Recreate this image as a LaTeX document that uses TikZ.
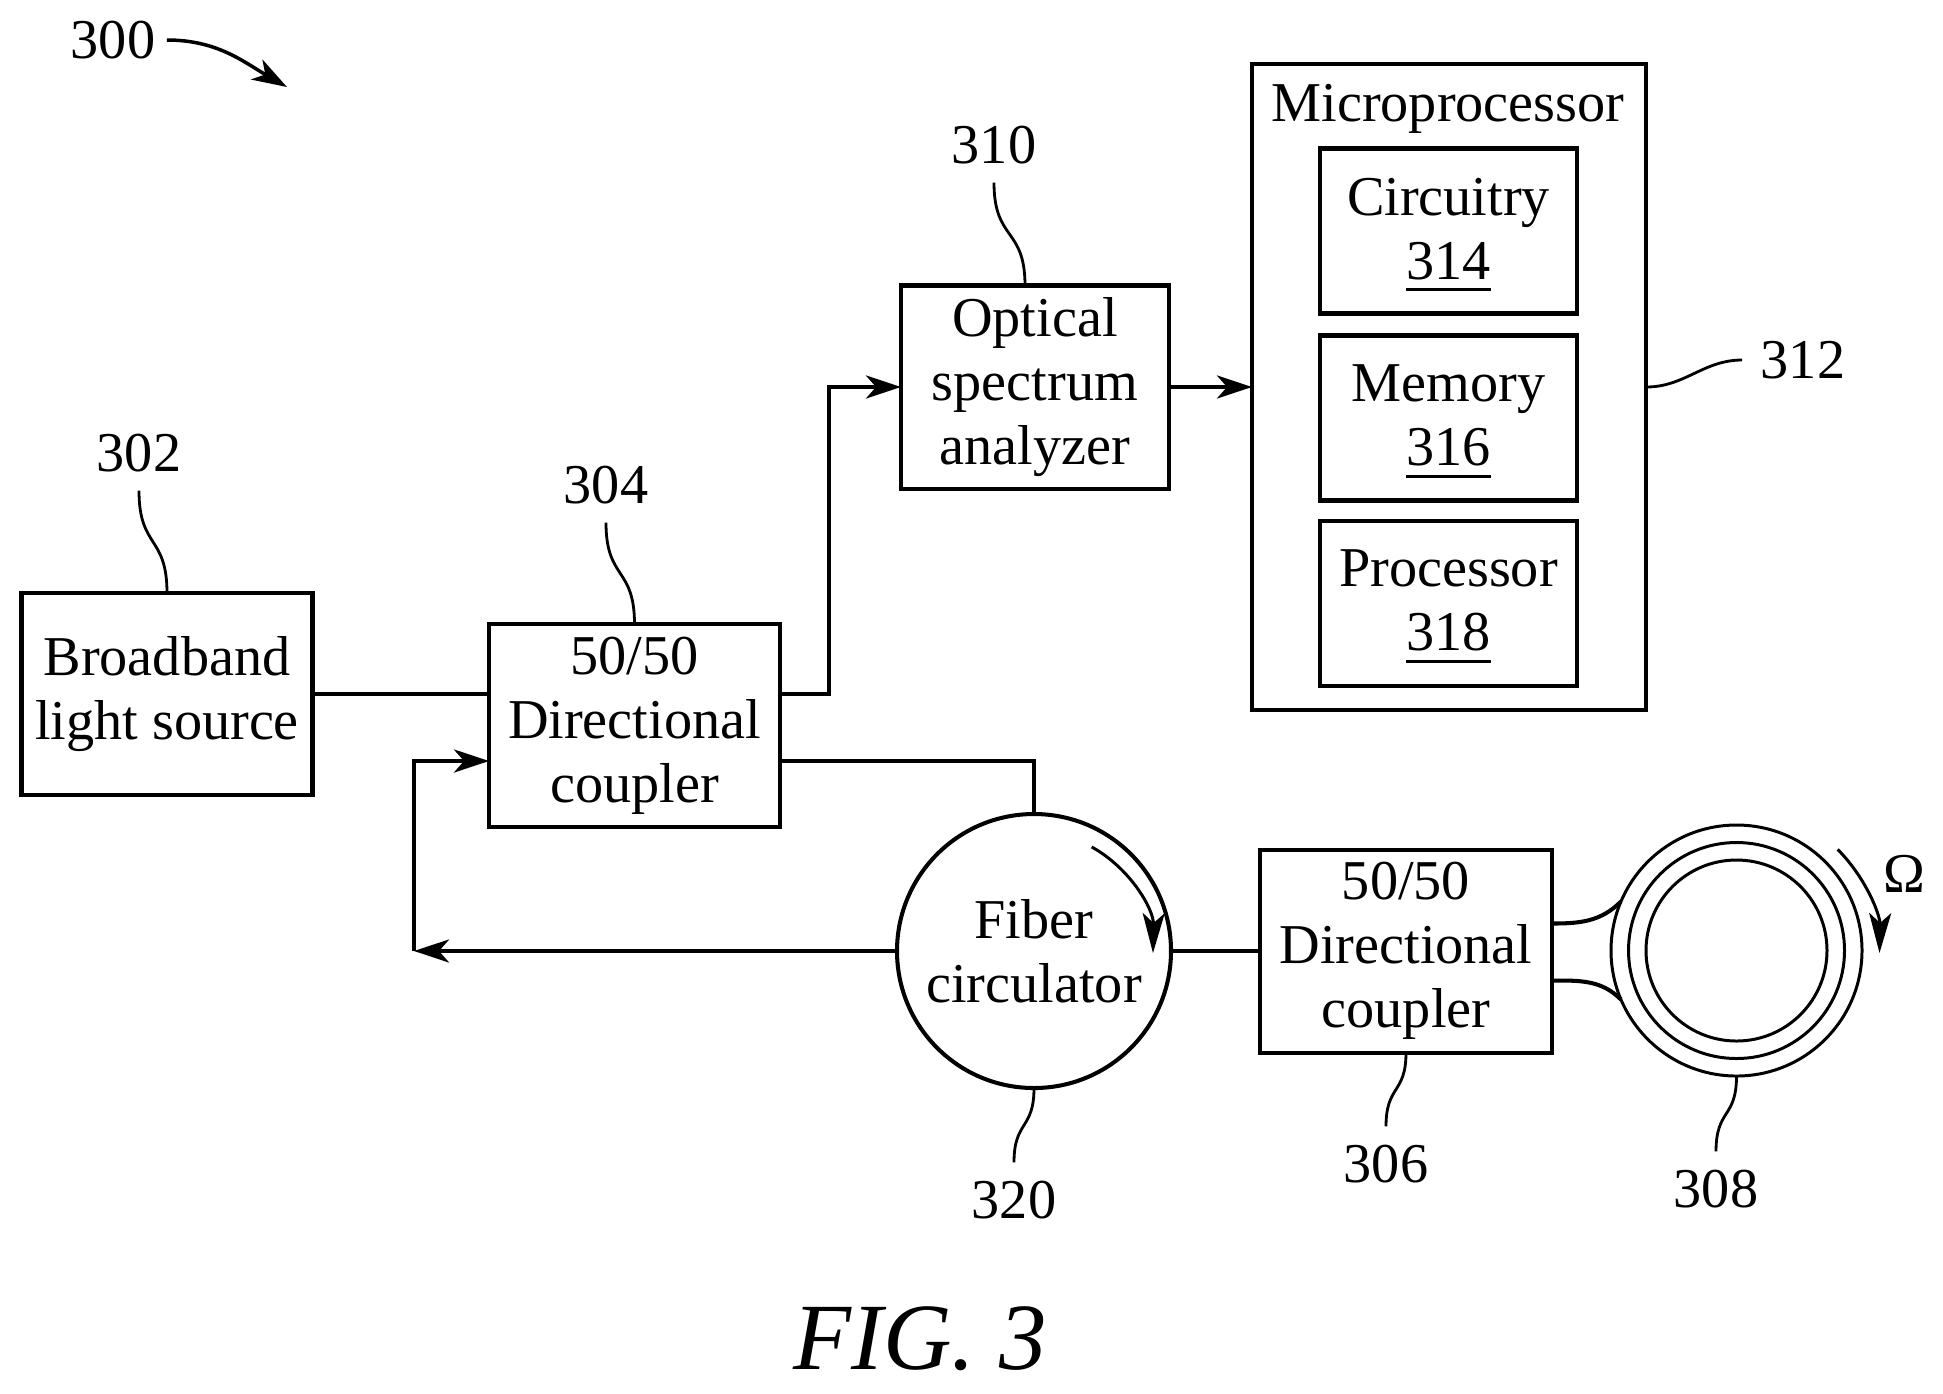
\documentclass[tikz,border=0pt]{standalone}
\usepackage{fontspec}
\setmainfont{Liberation Serif}
\usetikzlibrary{arrows.meta}

\newcommand{\ulnum}[1]{\leavevmode\rlap{\smash{\rule[-.12cm]{.85cm}{.85pt}}}#1\rule[-.05cm]{0pt}{.01cm}}

\tikzset{
  block/.style={draw,line width=1.15pt,inner sep=0pt,outer sep=0pt,align=center,font=\fontsize{16}{18.2}\selectfont},
  refnum/.style={inner sep=.18cm,font=\fontsize{16}{18.2}\selectfont},
  wire/.style={line width=1.15pt},
  leader/.style={line width=.8pt,looseness=1.4},
  spin/.style={line width=.85pt,-{Stealth[length=4mm,width=2.2mm,inset=1mm]}},
  ringline/.style={draw,circle,line width=.85pt,inner sep=0pt,outer sep=0pt},
}

\begin{document}
\begin{tikzpicture}[>={Stealth[length=3.5mm,width=2.3mm,inset=1mm]},node distance=2cm]
  \useasboundingbox (0,0) rectangle (19.43,-13.93);

  \node[block,minimum width=2.91cm,minimum height=2.02cm] (src) at (1.67,-6.94) {Broadband\\light source};
  \node[block,minimum width=2.91cm,minimum height=2.03cm] (dc1) [right of=src,node distance=4.675cm,yshift=-.315cm] {50/50\\Directional\\coupler};
  \node[block,minimum width=2.68cm,minimum height=2.03cm] (osa) at (10.35,-3.87) {Optical\\spectrum\\analyzer};
  \node[block,minimum width=3.94cm,minimum height=6.46cm] (cpu) at (14.49,-3.87) {};
  \node[refnum,inner sep=0pt] (cpulbl) at (14.48,-1.09) {Microprocessor};
  \node[block,minimum width=2.57cm,minimum height=1.65cm] (mem) [at={(14.485,-4.18)}] {Memory\\\ulnum{316}};
  \node[block,minimum width=2.57cm,minimum height=1.65cm] (cir) [above of=mem,node distance=1.87cm] {Circuitry\\\ulnum{314}};
  \node[block,minimum width=2.57cm,minimum height=1.65cm] (pro) [below of=mem,node distance=1.85cm] {Processor\\\ulnum{318}};
  \node[block,circle,minimum size=2.74cm] (circ) at (10.34,-9.51) {Fiber\\circulator};
  \node[block,minimum width=2.92cm,minimum height=2.03cm] (dc2) [right of=circ,node distance=3.72cm] {50/50\\Directional\\coupler};
  \node[ringline,minimum size=2.51cm] (ringA) at (17.365,-9.505) {};
  \node[ringline,minimum size=2.16cm] (ringB) at (ringA) {};
  \node[ringline,minimum size=1.81cm] (ringC) at (ringA) {};

  % reference numbers
  \node[refnum,inner sep=.11cm] (lb300) at (1.13,-.40) {300};
  \node[refnum] (lb302) at (1.39,-4.53) {302};
  \node[refnum] (lb304) at (6.06,-4.85) {304};
  \node[refnum] (lb310) at (9.94,-1.45) {310};
  \node[refnum] (lb312) at (18.03,-3.60) {312};
  \node[refnum] (lb320) at (10.14,-12.00) {320};
  \node[refnum] (lb306) at (13.86,-11.64) {306};
  \node[refnum] (lb308) at (17.16,-11.89) {308};
  \node[refnum] (lbom)  at (19.04,-8.74) {Ω};
  \node[font=\fontsize{27}{30}\selectfont\itshape] (figlbl) at (9.20,-13.39) {FIG. 3};

  \coordinate (tap) at (8.29,-6.94);
  \coordinate (fb) at (4.14,-9.51);
  \coordinate (dc1in) at (4.89,-7.61);
  \coordinate (dc1out) at (7.80,-7.61);
  \coordinate (stubA) at ([yshift=.275cm]dc2.east);
  \coordinate (stubB) at ([yshift=-.295cm]dc2.east);
  \coordinate (tip300) at (2.87,-.87);

  % connectors
  \draw[wire] (src.east) -- (dc1.west |- src);
  \draw[wire,->] (dc1.east |- src) -- (tap) |- (osa.west);
  \draw[wire,->] (osa.east) -- (cpu.west |- osa);
  \draw[wire] (dc1out) -| (circ.north);
  \draw[wire,->] (circ.west) -- (fb);
  \draw[wire,->] (fb) |- (dc1in);
  \draw[wire] (circ.east) -- (dc2.west);
  \draw[wire] (stubA) to[out=0,in=225] (ringA.157);
  \draw[wire] (stubB) to[out=0,in=135] (ringA.203);

  % rotation arrows
  \draw[spin] ([shift={(61:1.19)}]circ.center) arc[start angle=61,end angle=-1,radius=1.19];
  \draw[spin] ([shift={(45:1.43)}]ringA.center) arc[start angle=45,end angle=-1,radius=1.43];

  % leaders
  \draw[line width=1pt,->] (lb300.east) to[out=0,in=150] (tip300);
  \draw[leader] (lb302.south) to[out=-90,in=90] (src.north);
  \draw[leader] (lb304.south) to[out=-90,in=90] (dc1.north);
  \draw[leader] (lb310.south) to[out=-90,in=90] ([xshift=-.10cm]osa.north);
  \draw[leader,looseness=1] (lb312.west) to[out=180,in=0] (cpu.east);
  \draw[leader] (lb320.north) to[out=90,in=-90] (circ.south);
  \draw[leader] (lb306.north) to[out=90,in=-90] (dc2.south);
  \draw[leader] (lb308.north) to[out=90,in=-90] (ringA.south);
\end{tikzpicture}
\end{document}
